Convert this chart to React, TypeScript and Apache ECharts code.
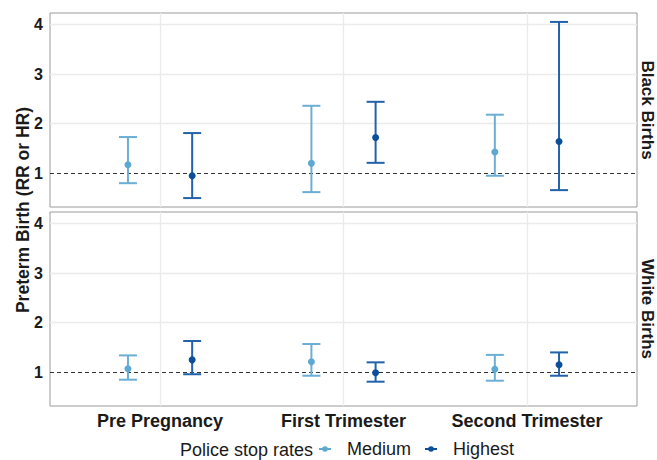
import React, { useEffect, useRef } from "react";
import * as echarts from "echarts";

const categories = ["Pre Pregnancy", "First Trimester", "Second Trimester"];
const panels = ["Black Births", "White Births"];

const blackMediumEst = [1.17, 1.2, 1.43];
const blackMediumLow = [0.8, 0.62, 0.95];
const blackMediumHigh = [1.73, 2.36, 2.18];
const blackHighestEst = [0.95, 1.72, 1.64];
const blackHighestLow = [0.5, 1.21, 0.66];
const blackHighestHigh = [1.81, 2.44, 4.05];

const whiteMediumEst = [1.07, 1.21, 1.06];
const whiteMediumLow = [0.85, 0.93, 0.83];
const whiteMediumHigh = [1.34, 1.57, 1.35];
const whiteHighestEst = [1.25, 0.99, 1.15];
const whiteHighestLow = [0.96, 0.81, 0.93];
const whiteHighestHigh = [1.63, 1.2, 1.4];

const yTicks = [1, 2, 3, 4];
const dodge = 0.175;

const FONT = "'Liberation Sans', Arial, sans-serif";
const MED_LINE = "#6baed6";
const MED_PT = "#5ea8d4";
const HI_LINE = "#2262aa";
const HI_PT = "#0b4f9a";

const legendIcon =
  "path://M0,4h12v2h-12z M6,2.2a2.8,2.8 0 1,1 0,5.6a2.8,2.8 0 1,1 0,-5.6z";

function errRender(color: string) {
  return (params: any, api: any) => {
    const x = api.value(0);
    const lo = api.coord([x, api.value(2)]);
    const hi = api.coord([x, api.value(3)]);
    const hw = 9;
    const style = { stroke: color, lineWidth: 2, fill: "none" };
    return {
      type: "group",
      children: [
        { type: "line", shape: { x1: lo[0], y1: lo[1], x2: hi[0], y2: hi[1] }, style },
        { type: "line", shape: { x1: lo[0] - hw, y1: lo[1], x2: lo[0] + hw, y2: lo[1] }, style },
        { type: "line", shape: { x1: hi[0] - hw, y1: hi[1], x2: hi[0] + hw, y2: hi[1] }, style },
      ],
    };
  };
}

export default function App() {
  const ref = useRef<HTMLDivElement>(null);
  useEffect(() => {
    document.body.style.margin = "0";
    if (!ref.current) return;
    const chart = echarts.init(ref.current, null, { renderer: "svg" });

    const sets = [
      {
        med: [blackMediumEst, blackMediumLow, blackMediumHigh],
        hi: [blackHighestEst, blackHighestLow, blackHighestHigh],
      },
      {
        med: [whiteMediumEst, whiteMediumLow, whiteMediumHigh],
        hi: [whiteHighestEst, whiteHighestLow, whiteHighestHigh],
      },
    ];

    const grids = [
      { left: 50, top: 13, width: 587, height: 194 },
      { left: 50, top: 212, width: 587, height: 194 },
    ].map((g) => ({
      ...g,
      show: true,
      borderColor: "#9a9a9a",
      borderWidth: 1,
      backgroundColor: "#ffffff",
    }));

    const xAxes = [0, 1].map((i) => ({
      type: "value",
      gridIndex: i,
      min: 0.4,
      max: 3.6,
      axisLine: { show: false },
      axisTick: { show: false },
      splitLine: { show: false },
      axisLabel: {
        show: i === 1,
        customValues: [1, 2, 3],
        formatter: (v: number) => categories[Math.round(v) - 1] ?? "",
        fontSize: 18,
        fontWeight: "bold",
        fontFamily: FONT,
        color: "#1a1a1a",
        margin: 6,
      },
    }));

    const yAxes = [0, 1].map((i) => ({
      type: "value",
      gridIndex: i,
      min: 0.32,
      max: 4.23,
      axisLine: { show: false },
      axisTick: { show: false },
      splitLine: { show: false },
      axisLabel: {
        customValues: yTicks,
        fontSize: 16,
        fontWeight: "bold",
        fontFamily: FONT,
        color: "#1a1a1a",
        margin: 7,
      },
    }));

    const series: any[] = [];
    sets.forEach((s, gi) => {
      series.push({
        type: "scatter",
        xAxisIndex: gi,
        yAxisIndex: gi,
        data: [[2, 2]],
        symbolSize: 0,
        silent: true,
        z: 1,
        markLine: {
          silent: true,
          symbol: "none",
          z: 1,
          label: { show: false },
          lineStyle: { color: "#ebebeb", width: 1.3, type: "solid" },
          data: [
            ...categories.map((_, k) => ({ xAxis: k + 1 })),
            ...yTicks.filter((t) => t !== 1).map((t) => ({ yAxis: t })),
            {
              yAxis: 1,
              lineStyle: { color: "#333333", width: 1.1, type: [4, 3] },
            },
          ],
        },
      });
      const medErr = categories.map((_, k) => [k + 1 - dodge, s.med[0][k], s.med[1][k], s.med[2][k]]);
      const hiErr = categories.map((_, k) => [k + 1 + dodge, s.hi[0][k], s.hi[1][k], s.hi[2][k]]);
      series.push({
        type: "custom",
        xAxisIndex: gi,
        yAxisIndex: gi,
        renderItem: errRender(MED_LINE),
        data: medErr,
        encode: { x: 0, y: [2, 3] },
        z: 3,
        silent: true,
      });
      series.push({
        type: "custom",
        xAxisIndex: gi,
        yAxisIndex: gi,
        renderItem: errRender(HI_LINE),
        data: hiErr,
        encode: { x: 0, y: [2, 3] },
        z: 3,
        silent: true,
      });
      series.push({
        name: "Medium",
        type: "scatter",
        xAxisIndex: gi,
        yAxisIndex: gi,
        data: medErr.map((d) => [d[0], d[1]]),
        symbolSize: 7,
        itemStyle: { color: MED_PT, opacity: 1 },
        z: 4,
      });
      series.push({
        name: "Highest",
        type: "scatter",
        xAxisIndex: gi,
        yAxisIndex: gi,
        data: hiErr.map((d) => [d[0], d[1]]),
        symbolSize: 7,
        itemStyle: { color: HI_PT, opacity: 1 },
        z: 4,
      });
    });

    chart.setOption({
      animation: false,
      backgroundColor: "#ffffff",
      grid: grids,
      xAxis: xAxes,
      yAxis: yAxes,
      legend: {
        data: [
          { name: "Medium", icon: legendIcon },
          { name: "Highest", icon: legendIcon },
        ],
        left: 319,
        top: 440,
        padding: 0,
        itemWidth: 12,
        itemHeight: 6,
        itemGap: 14,
        selectedMode: false,
        textStyle: {
          fontSize: 18,
          fontFamily: FONT,
          color: "#1a1a1a",
          padding: [0, 0, 0, 11],
        },
      },
      graphic: [
        {
          type: "text",
          x: 180,
          y: 450,
          style: {
            text: "Police stop rates",
            fontSize: 18,
            fontFamily: FONT,
            fill: "#1a1a1a",
            verticalAlign: "middle",
          },
        },
        {
          type: "text",
          x: 23,
          y: 210,
          rotation: Math.PI / 2,
          style: {
            text: "Preterm Birth (RR or HR)",
            fontSize: 17.5,
            fontWeight: "bold",
            fontFamily: FONT,
            fill: "#1a1a1a",
            align: "center",
            verticalAlign: "middle",
          },
        },
        ...panels.map((p, i) => ({
          type: "text",
          x: 647,
          y: i === 0 ? 110 : 309,
          rotation: -Math.PI / 2,
          style: {
            text: p,
            fontSize: 17,
            fontWeight: "bold",
            fontFamily: FONT,
            fill: "#1a1a1a",
            align: "center",
            verticalAlign: "middle",
          },
        })),
      ],
      series,
    });
    return () => chart.dispose();
  }, []);
  return <div ref={ref} style={{ width: 657, height: 460 }} />;
}
